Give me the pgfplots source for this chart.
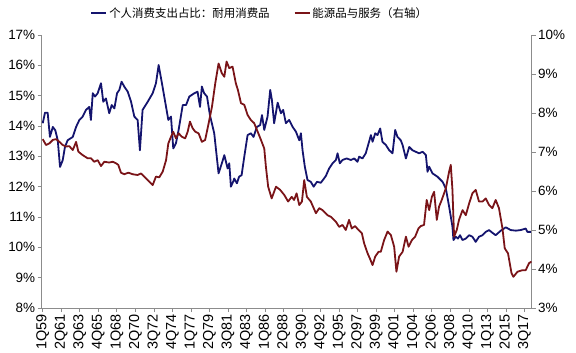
\documentclass[border=0pt]{standalone}
\usepackage{pgfplots}
\pgfplotsset{compat=1.18}
\usepackage{fontspec}
\setmainfont{Liberation Sans}
\newfontfamily\cjk{Noto Sans CJK SC}
\definecolor{navyline}{HTML}{14146E}
\definecolor{maroonline}{HTML}{7A1418}
\definecolor{axgray}{HTML}{8C8C8C}
\begin{document}
\begin{tikzpicture}
\path[use as bounding box] (-41.7bp,-45bp) rectangle (534.3bp,308bp);
\pgfplotsset{
  base/.style={
    scale only axis, width=490bp, height=273bp,
    at={(0,0)}, anchor=south west,
    xmin=-0.5, xmax=237.5,
    tick align=outside, major tick length=4bp,
    axis line style={axgray, line width=0.8pt},
    tick style={axgray, line width=0.8pt},
    tick label style={font=\fontsize{13.5}{13.5}\selectfont},
    /pgf/number format/assume math mode=true,
  }
}
\begin{axis}[base,
  axis y line*=left, axis x line*=bottom,
  ymin=8, ymax=17,
  ytick={8,9,10,11,12,13,14,15,16,17},
  yticklabels={8\%,9\%,10\%,11\%,12\%,13\%,14\%,15\%,16\%,17\%},
  y tick label style={xshift=1bp},
  xtick={0,9,18,27,36,45,54,63,72,81,90,99,108,117,126,135,144,153,162,171,180,189,198,207,216,225,234},
  xticklabels={1Q59,2Q61,3Q63,4Q65,1Q68,2Q70,3Q72,4Q74,1Q77,2Q79,3Q81,4Q83,1Q86,2Q88,3Q90,4Q92,1Q95,2Q97,3Q99,4Q01,1Q04,2Q06,3Q08,4Q10,1Q13,2Q15,3Q17},
  x tick label style={rotate=90, anchor=east, font=\fontsize{14.5}{14.5}\selectfont, inner sep=2bp},
]
\addplot[navyline, line width=1.8pt, line join=round] coordinates {
(0,14.09)(1.1,14.44)(2.4,14.44)(3.5,13.64)(4.9,13.97)(6.1,13.86)(7.3,13.53)(8.4,12.65)(9.7,12.87)(10.8,13.31)(12.1,13.53)(14.6,13.64)(16.2,13.97)(17.8,14.2)(19.4,14.31)(21.0,14.53)(22.6,14.63)(23.4,14.2)(24.3,15.08)(25.4,14.97)(26.7,15.08)(28.3,15.41)(29.4,14.8)(30.7,14.91)(32.3,14.42)(33.5,14.69)(34.8,14.58)(36.1,15.08)(37.2,15.19)(38.3,15.46)(39.6,15.3)(41.3,15.13)(42.9,14.8)(44.5,14.31)(46.1,14.2)(47.2,13.2)(48.5,14.53)(51.0,14.8)(53.4,15.08)(55.0,15.41)(56.3,16.01)(57.9,15.41)(59.9,14.63)(61.0,14.2)(62.3,14.31)(63.4,13.26)(64.7,13.43)(66.0,13.87)(68.0,14.69)(69.6,14.69)(71.2,14.97)(73.6,15.08)(75.2,15.13)(76.4,14.63)(77.3,15.3)(78.4,15.08)(79.8,14.97)(81.2,14.36)(83.3,13.76)(85.4,12.44)(87.0,12.77)(88.2,13.04)(89.8,12.6)(90.6,12.77)(91.4,12.0)(92.7,12.2)(93.0,12.27)(94.3,12.11)(95.4,12.33)(96.6,12.38)(97.9,12.99)(99.5,13.7)(101.1,13.76)(102.4,13.64)(104.0,13.97)(105.6,14.03)(106.5,14.36)(107.6,13.87)(109.2,14.31)(110.5,15.19)(111.3,14.86)(112.4,14.09)(114.1,14.77)(115.7,14.42)(116.8,14.53)(118.1,14.09)(119.7,14.2)(121.4,13.97)(123.0,13.81)(124.6,13.53)(125.4,13.76)(126.2,13.2)(127.3,12.66)(128.6,12.22)(130.2,12.16)(131.6,12.0)(133.2,12.16)(135.1,12.13)(137.5,12.35)(139.1,12.6)(140.8,12.77)(142.4,12.88)(143.2,13.1)(144.3,12.77)(145.6,12.88)(147.6,12.93)(149.7,12.88)(151.3,12.93)(152.9,12.82)(153.7,12.99)(155.3,12.93)(156.9,13.1)(158.5,13.48)(159.4,13.7)(160.2,13.48)(161.5,13.76)(162.6,13.7)(163.9,13.92)(165.0,13.48)(166.7,13.37)(168.3,13.2)(169.9,13.1)(171.2,13.87)(172.3,13.64)(173.9,13.53)(174.8,13.37)(176.4,12.93)(178.0,13.31)(179.6,13.2)(181.2,13.15)(182.8,13.1)(184.5,13.15)(186.1,13.04)(186.9,12.49)(187.7,12.66)(189.3,12.44)(191.7,12.33)(194.2,12.16)(195.8,11.94)(197.4,11.34)(199.0,10.68)(199.5,10.24)(200.6,10.35)(201.7,10.29)(202.7,10.4)(203.9,10.24)(205.5,10.29)(207.1,10.4)(208.7,10.35)(210.3,10.18)(211.9,10.35)(213.6,10.4)(215.2,10.51)(216.8,10.57)(218.4,10.48)(220.0,10.4)(222.5,10.55)(224.9,10.66)(227.3,10.57)(229.8,10.55)(232.2,10.57)(234.6,10.62)(235.4,10.51)(237.4,10.51)
};
\end{axis}
\begin{axis}[base,
  axis y line*=right, axis x line=none,
  ymin=3, ymax=10,
  ytick={3,4,5,6,7,8,9,10},
  yticklabels={3\%,4\%,5\%,6\%,7\%,8\%,9\%,10\%},
  y tick label style={xshift=-1bp},
  legend style={at={(0.445,1.08)}, anchor=center, draw=none, fill=none,
    legend columns=2, font=\cjk\fontsize{11.5}{12}\selectfont,
    /tikz/every even column/.append style={column sep=22bp},
    legend cell align=left},
  legend image code/.code={\draw[#1] (0bp,0bp) -- (15bp,0bp);},
]
\addlegendimage{navyline, line width=1.8pt}
\addlegendentry{个人消费支出占比：耐用消费品}
\addplot[maroonline, line width=1.8pt, line join=round] coordinates {
(0,7.33)(1.6,7.18)(3.2,7.22)(4.9,7.31)(6.5,7.33)(8.1,7.26)(9.7,7.18)(11.3,7.14)(12.9,7.15)(14.6,7.05)(16.2,7.26)(17.3,7.01)(19.4,6.92)(21.8,6.84)(23.4,6.84)(25.0,6.75)(26.7,6.79)(28.3,6.64)(29.9,6.75)(32.3,6.73)(34.0,6.75)(35.6,6.71)(36.7,6.67)(38.0,6.47)(39.6,6.43)(41.6,6.47)(43.7,6.43)(46.1,6.41)(47.7,6.45)(49.3,6.37)(51.0,6.28)(53.4,6.15)(55.0,6.37)(56.6,6.35)(58.3,6.5)(59.9,6.79)(61.0,7.22)(62.3,7.39)(63.4,7.52)(64.7,7.35)(66.0,7.48)(67.6,7.39)(69.2,7.35)(70.4,7.52)(71.5,7.78)(72.8,7.61)(74.1,7.52)(75.7,7.48)(77.3,7.26)(78.9,7.31)(80.6,7.74)(82.2,8.16)(83.8,8.76)(85.4,9.27)(87.0,9.02)(88.2,8.93)(89.3,9.32)(90.6,9.15)(92.2,9.19)(93.8,8.76)(94.8,8.59)(96.3,8.25)(97.9,8.21)(99.5,7.95)(101.1,7.82)(102.7,7.74)(104.4,7.52)(106.0,7.31)(107.6,7.09)(108.4,6.62)(109.5,6.11)(111.2,5.81)(113.3,6.11)(115.3,6.03)(117.3,5.9)(119.2,5.73)(120.9,5.85)(122.1,5.77)(123.3,5.94)(124.6,5.64)(125.9,5.73)(127.0,6.28)(128.3,5.85)(130.2,5.73)(132.7,5.43)(134.3,5.56)(135.9,5.51)(138.3,5.38)(139.9,5.34)(142.4,5.21)(144.0,5.08)(145.6,5.13)(147.2,5.0)(148.8,5.26)(150.1,5.04)(151.7,5.1)(153.4,5.0)(155.0,4.92)(156.1,4.66)(157.8,4.4)(158.9,4.27)(160.2,4.1)(161.5,4.32)(163.1,4.44)(164.2,4.44)(165.8,4.74)(167.5,4.96)(169.1,4.87)(170.7,4.57)(171.8,3.93)(173.1,4.32)(174.8,4.44)(176.4,4.83)(177.7,4.57)(179.3,4.74)(180.9,4.83)(182.5,5.04)(183.6,5.1)(185.2,5.13)(186.5,5.77)(187.7,5.51)(189.0,5.85)(190.1,5.98)(191.4,5.26)(192.5,5.6)(193.8,5.77)(195.8,6.07)(197.4,6.5)(198.2,6.67)(199.0,6.03)(199.8,4.83)(201.1,5.0)(202.2,5.26)(203.9,5.51)(205.5,5.38)(207.1,5.68)(208.7,5.94)(210.3,6.03)(211.9,5.73)(213.6,5.73)(215.2,5.81)(216.8,5.64)(218.4,5.56)(220.0,5.77)(221.6,5.56)(223.3,5.04)(224.4,4.53)(226.0,4.4)(227.7,3.89)(228.6,3.8)(230.6,3.93)(233.0,3.97)(234.6,3.97)(236.2,4.15)(237.4,4.19)
};
\addlegendentry{能源品与服务（右轴）}
\end{axis}
\end{tikzpicture}
\end{document}
